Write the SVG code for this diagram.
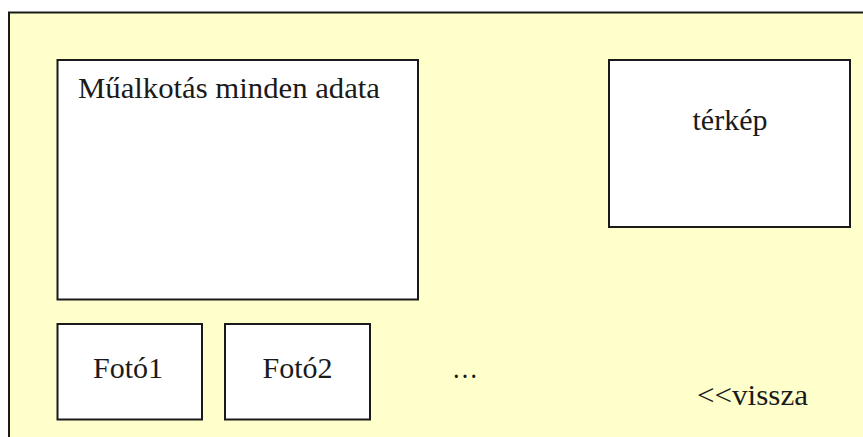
<svg xmlns="http://www.w3.org/2000/svg" width="863" height="437" viewBox="0 0 863 437">
<style>
.box{fill:#ffffff;stroke:#1a1a1a;stroke-width:2}
.lbl{font-family:"Liberation Serif","Times New Roman",serif;font-size:30px;fill:#1a1a1a}
</style>
<rect width="863" height="437" fill="#ffffff"/>
<g id="page">
<rect x="9" y="12.5" width="870" height="440" fill="#ffffcc" stroke="#1a1a1a" stroke-width="2"/>
</g>
<g id="connectors"></g>
<g id="adatok">
<rect class="box" x="57.5" y="60" width="360.5" height="239.5"/>
<text class="lbl" x="78" y="98" textLength="302" lengthAdjust="spacingAndGlyphs">Műalkotás minden adata</text>
</g>
<g id="terkep">
<rect class="box" x="609" y="60" width="241" height="167"/>
<text class="lbl" x="730" y="130" text-anchor="middle">térkép</text>
</g>
<g id="foto1">
<rect class="box" x="57.5" y="324" width="144.5" height="95.5"/>
<text class="lbl" x="128" y="378" text-anchor="middle">Fotó1</text>
</g>
<g id="foto2">
<rect class="box" x="225" y="324" width="145" height="95.5"/>
<text class="lbl" x="297.5" y="378" text-anchor="middle">Fotó2</text>
</g>
<g id="tobb">
<text class="lbl" x="452" y="378" textLength="26" lengthAdjust="spacingAndGlyphs">…</text>
</g>
<g id="vissza">
<text class="lbl" x="697" y="405" textLength="111" lengthAdjust="spacingAndGlyphs">&lt;&lt;vissza</text>
</g>
</svg>
